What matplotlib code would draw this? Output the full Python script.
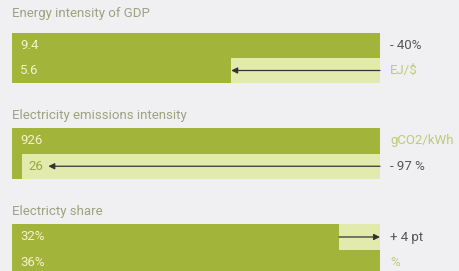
import matplotlib
matplotlib.use("Agg")
import matplotlib.pyplot as plt
from matplotlib.transforms import offset_copy

plt.rcParams["font.family"] = ["Roboto", "DejaVu Sans"]

# data
titles = ["Energy intensity of GDP", "Electricity emissions intensity", "Electricty share"]
before = [9.4, 926, 32]
after = [5.6, 26, 36]
before_labels = ["9.4", "926", "32%"]
after_labels = ["5.6", "26", "36%"]
change_labels = ["- 40%", "- 97 %", "+ 4 pt"]
units = ["EJ/$", "gCO2/kWh", "%"]

BG = "#f0f0f2"
DARK = "#a3b43a"
LIGHT = "#e2eaae"
TITLE_C = "#9ea27e"
UNIT_C = "#bfca7a"
CHANGE_C = "#555555"
IN_TXT = "#f2f4cc"
W, H = 460, 271
FS = 9.5

fig = plt.figure(figsize=(W / 100, H / 100), dpi=100, facecolor=BG)

# panel geometry in pixels: (bar top, bar bottom, title y)
panels = [(33, 83, 14), (128, 179, 115), (224, 276, 211)]

for i, (top, bot, ty) in enumerate(panels):
    ax = fig.add_axes([12 / W, (H - bot) / H, 368 / W, (bot - top) / H])
    ax.set_axis_off()
    vmax = max(before[i], after[i])
    ax.set_xlim(0, vmax)
    ax.set_ylim(0, 2)
    rows = [1.5, 0.5]
    vals = [before[i], after[i]]
    ax.barh(rows, [vmax, vmax], height=1.0, color=LIGHT, edgecolor="none")
    ax.barh(rows, vals, height=1.0, color=DARK, edgecolor="none")

    # labels in bars
    for j, (v, lab) in enumerate(zip(vals, [before_labels[i], after_labels[i]])):
        if v / vmax < 0.1:
            tr = offset_copy(ax.transData, fig=fig, x=6, y=0, units="dots")
            ax.text(v, rows[j], lab, transform=tr, ha="left", va="center",
                    fontsize=FS, color="#98a640")
        else:
            ax.text(8 / 368, rows[j] / 2, lab, transform=ax.transAxes,
                    ha="left", va="center", fontsize=FS, color=IN_TXT)

    # arrow from old value to new value
    arrow = dict(arrowstyle="-|>", color="#333333", lw=0.9,
                 mutation_scale=9, shrinkA=0, shrinkB=0)
    if after[i] < before[i]:
        y = rows[1]
        if after[i] / vmax < 0.1:
            tip_tr = offset_copy(ax.transData, fig=fig, x=26, y=0, units="dots")
        else:
            tip_tr = ax.transData
        ax.annotate("", xy=(after[i], y), xycoords=tip_tr,
                    xytext=(before[i], y), textcoords="data", arrowprops=arrow)
    else:
        y = rows[0]
        ax.annotate("", xy=(after[i], y), xytext=(before[i], y), arrowprops=arrow)

    fig.text(12 / W, 1 - ty / H, titles[i], ha="left", va="center",
             fontsize=FS, color=TITLE_C)

    y_top = 1 - (top + (bot - top) * 0.25) / H
    y_bot = 1 - (top + (bot - top) * 0.75) / H
    if i == 1:
        fig.text(390 / W, y_top, units[i], ha="left", va="center", fontsize=FS, color=UNIT_C)
        fig.text(390 / W, y_bot, change_labels[i], ha="left", va="center", fontsize=FS, color=CHANGE_C)
    else:
        fig.text(390 / W, y_top, change_labels[i], ha="left", va="center", fontsize=FS, color=CHANGE_C)
        fig.text(390 / W, y_bot, units[i], ha="left", va="center", fontsize=FS, color=UNIT_C)

fig.savefig("out.png", dpi=100, facecolor=BG)
